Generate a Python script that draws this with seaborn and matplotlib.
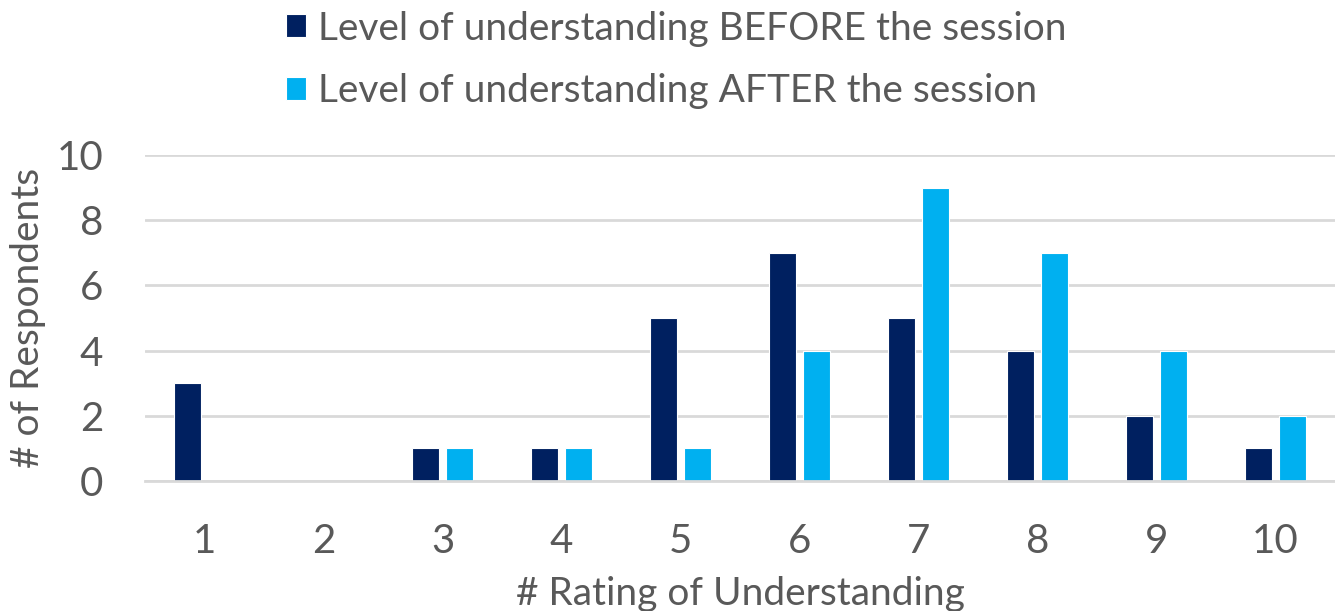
import matplotlib
matplotlib.use("Agg")
import matplotlib.pyplot as plt
import seaborn as sns
import pandas as pd

ratings = ["1", "2", "3", "4", "5", "6", "7", "8", "9", "10"]
before = [3, 0, 1, 1, 5, 7, 5, 4, 2, 1]
after = [0, 0, 1, 1, 1, 4, 9, 7, 4, 2]
series_names = ["Level of understanding BEFORE the session",
                "Level of understanding AFTER the session"]
colors = ["#002060", "#00B0F0"]

df = pd.DataFrame({
    "rating": ratings * 2,
    "count": before + after,
    "series": [series_names[0]] * len(ratings) + [series_names[1]] * len(ratings),
})

sns.set_theme(style="white")
plt.rcParams["font.family"] = ["Lato", "DejaVu Sans"]
text_color = "#595959"
grid_color = "#d9d9d9"

fig = plt.figure(figsize=(13.35, 6.11), dpi=100)
ax = fig.add_axes([0.1086, 0.2128, 0.8914, 0.5335])

sns.barplot(data=df, x="rating", y="count", hue="series", order=ratings,
            hue_order=series_names, palette=colors, saturation=1,
            width=0.57, gap=0.2, edgecolor="white", linewidth=0.8, ax=ax)

ax.set_ylim(0, 10)
ax.set_xlim(-0.5, 9.5)
ax.set_yticks([0, 2, 4, 6, 8, 10])
ax.yaxis.grid(True, color=grid_color, linewidth=2)
ax.set_axisbelow(True)
for side in ["top", "right", "left"]:
    ax.spines[side].set_visible(False)
ax.spines["bottom"].set_color(grid_color)
ax.spines["bottom"].set_linewidth(2)
ax.tick_params(axis="both", length=0, labelsize=29, labelcolor=text_color)
ax.tick_params(axis="x", pad=30)
ax.tick_params(axis="y", pad=30)

ax.set_xlabel("# Rating of Understanding", fontsize=28, color=text_color, labelpad=12)
ax.set_ylabel("# of Respondents", fontsize=28, color=text_color)
ax.yaxis.set_label_coords(-0.098, 0.5)
ax.yaxis.label.set_va("center")

sns.move_legend(ax, "upper left", bbox_to_anchor=(0.188, 1.04),
                bbox_transform=fig.transFigure, title=None, frameon=False,
                fontsize=28, labelcolor=text_color, handlelength=0.52,
                handleheight=0.52, handletextpad=0.3, labelspacing=0.68)

fig.savefig("out.png", dpi=100)
